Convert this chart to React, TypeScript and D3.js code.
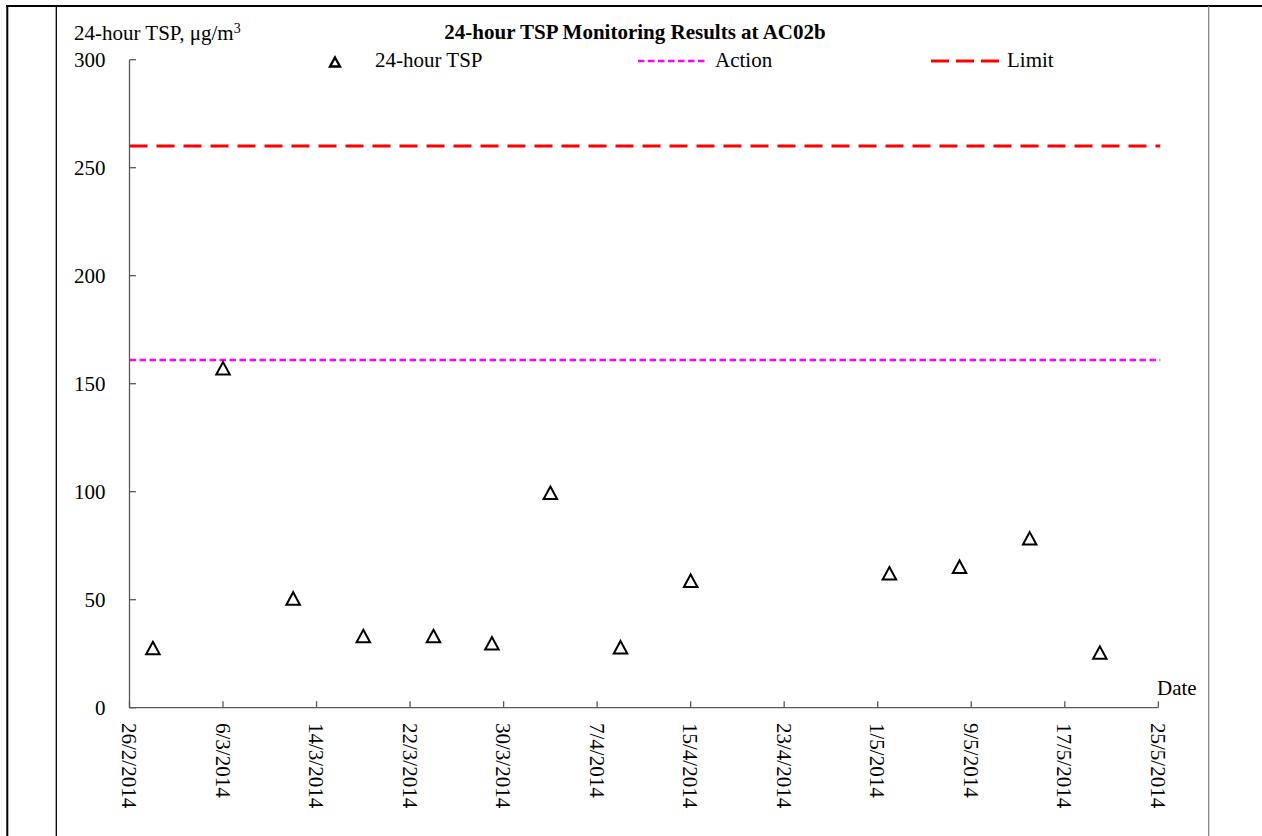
import React from 'react';
import * as d3 from 'd3';

const tickLabels = ['26/2/2014', '6/3/2014', '14/3/2014', '22/3/2014', '30/3/2014', '7/4/2014', '15/4/2014', '23/4/2014', '1/5/2014', '9/5/2014', '17/5/2014', '25/5/2014'];
const sampleDates = ['28/2/2014', '6/3/2014', '12/3/2014', '18/3/2014', '24/3/2014', '29/3/2014', '3/4/2014', '9/4/2014', '15/4/2014', '2/5/2014', '8/5/2014', '14/5/2014', '20/5/2014'];
const tspValues = [27.6, 157.1, 50.6, 33.2, 33.2, 29.8, 99.5, 28.0, 58.8, 62.2, 65.3, 78.4, 25.5];
const actionLevel = 161;
const limitLevel = 260;
const yTicks = [0, 50, 100, 150, 200, 250, 300];

const parse = d3.utcParse('%d/%m/%Y');
const FONT = '"Liberation Serif", "Times New Roman", serif';

export default function App() {
  const x = d3.scaleUtc()
    .domain([parse(tickLabels[0])!, parse(tickLabels[tickLabels.length - 1])!])
    .range([129.5, 1158.3]);
  const y = d3.scaleLinear().domain([0, 300]).range([707.7, 59.7]);
  const axisColor = '#595959';
  const tri = (cx: number, cy: number, w: number, h: number) =>
    `M${cx},${cy - h / 2}L${cx + w / 2},${cy + h / 2}L${cx - w / 2},${cy + h / 2}Z`;
  const [x0, x1] = x.range();

  return (
    <svg width={1262} height={836} style={{ position: 'absolute', left: 0, top: 0, background: '#fff' }} fontFamily={FONT}>
      <rect x={0} y={0} width={1262} height={836} fill="#fff" />
      {/* frame lines */}
      <line x1={6} x2={1262} y1={6} y2={6} stroke="#000" strokeWidth={2} />
      <line x1={7.3} x2={7.3} y1={5} y2={836} stroke="#000" strokeWidth={2} />
      <line x1={56.3} x2={56.3} y1={6} y2={836} stroke="#000" strokeWidth={1.3} />
      <line x1={1208.7} x2={1208.7} y1={6} y2={836} stroke="#808080" strokeWidth={1.2} />

      {/* title */}
      <text x={635} y={39} textAnchor="middle" fontWeight="bold" fontSize={21}>24-hour TSP Monitoring Results at AC02b</text>
      <text x={74} y={40} fontSize={21}>24-hour TSP, μg/m<tspan fontSize={14} dy={-7}>3</tspan></text>

      {/* reference lines */}
      <line x1={x0} x2={x1 + 2} y1={y(limitLevel)} y2={y(limitLevel)} stroke="#ff0000" strokeWidth={3} strokeDasharray="18,9" />
      <line x1={x0} x2={x1 + 2} y1={y(actionLevel)} y2={y(actionLevel)} stroke="#ff00ff" strokeWidth={2.4} strokeDasharray="6.5,3.5" />

      {/* y axis */}
      <line x1={x0} x2={x0} y1={y(300)} y2={y(0)} stroke={axisColor} strokeWidth={1.3} />
      {yTicks.map(t => (
        <g key={t}>
          <line x1={x0} x2={x0 + 6.5} y1={y(t)} y2={y(t)} stroke={axisColor} strokeWidth={1.3} />
          <text x={105.5} y={y(t)} dy="0.35em" textAnchor="end" fontSize={21}>{t}</text>
        </g>
      ))}

      {/* x axis */}
      <line x1={x0} x2={x1} y1={y(0)} y2={y(0)} stroke={axisColor} strokeWidth={1.3} />
      {tickLabels.map(l => {
        const tx = x(parse(l)!);
        return (
          <g key={l}>
            <line x1={tx} x2={tx} y1={y(0)} y2={y(0) - 6.5} stroke={axisColor} strokeWidth={1.3} />
            <text transform={`translate(${tx},723) rotate(90)`} dy="0.35em" fontSize={21}>{l}</text>
          </g>
        );
      })}
      <text x={1157} y={695} fontSize={21}>Date</text>

      {/* data */}
      {sampleDates.map((d, i) => (
        <path key={d} d={tri(x(parse(d)!), y(tspValues[i]), 13.5, 12.5)} fill="#fff" stroke="#000" strokeWidth={2} strokeLinejoin="miter" />
      ))}

      {/* legend */}
      <path d={tri(335, 62, 10, 9)} fill="#fff" stroke="#000" strokeWidth={2.4} />
      <text x={375} y={67} fontSize={21}>24-hour TSP</text>
      <line x1={638} x2={707} y1={61} y2={61} stroke="#ff00ff" strokeWidth={2.4} strokeDasharray="6.5,3.5" />
      <text x={715} y={67} fontSize={21}>Action</text>
      <line x1={931} x2={999} y1={61} y2={61} stroke="#ff0000" strokeWidth={3} strokeDasharray="18,7" />
      <text x={1007} y={67} fontSize={21}>Limit</text>
    </svg>
  );
}
